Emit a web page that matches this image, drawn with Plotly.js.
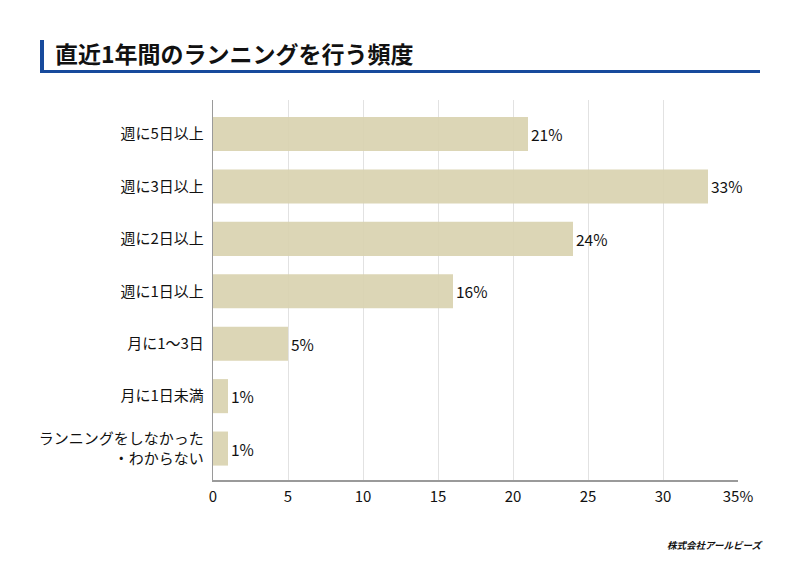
<!DOCTYPE html>
<html><head><meta charset="utf-8">
<script src="https://cdn.plot.ly/plotly-3.0.1.min.js"></script>
<style>html,body{margin:0;padding:0;background:#fff}#c{width:800px;height:566px}</style>
</head><body><div id="c"></div>
<script>
const categories = ["週に5日以上","週に3日以上","週に2日以上","週に1日以上","月に1～3日","月に1日未満","ランニングをしなかった<br>・わからない"];
const values = [21, 33, 24, 16, 5, 1, 1];
const tickVals = [0,5,10,15,20,25,30,35];
const tickText = ["0","5","10","15","20","25","30","35%"];
const titleText = "直近1年間のランニングを行う頻度";
const sourceText = "株式会社アールビーズ";

const font = "'Noto Sans CJK JP', 'Noto Sans', sans-serif";
const trace = {
  type: "bar", orientation: "h",
  y: categories, x: values,
  width: 0.65,
  marker: {color: "#d9d3b0", opacity: 0.92, line: {width: 0}},
  text: values.map(v => v + "%"),
  textposition: "outside",
  textfont: {family: font, size: 15.5, color: "#111"},
  cliponaxis: false,
  hoverinfo: "skip"
};
const layout = {
  width: 800, height: 566,
  margin: {l: 213, r: 62, t: 100, b: 86},
  paper_bgcolor: "#fff", plot_bgcolor: "#fff",
  showlegend: false,
  font: {family: font, color: "#111"},
  xaxis: {
    range: [0, 35], tickvals: tickVals, ticktext: tickText,
    showgrid: true, gridcolor: "#e2e2e2", gridwidth: 1,
    zeroline: false, showline: true, linecolor: "#9a9a9a", linewidth: 1.5,
    ticks: "", ticklabelstandoff: 2, tickfont: {family: font, size: 15, color: "#111"}, fixedrange: true
  },
  yaxis: {
    type: "category", range: [6.6, -0.65],
    showgrid: false, zeroline: false, showline: true, linecolor: "#9a9a9a", linewidth: 1.2,
    ticks: "", ticklabelstandoff: 5, tickfont: {family: font, size: 15, color: "#111"}, fixedrange: true
  },
  shapes: [
    {type: "rect", xref: "paper", yref: "paper", fillcolor: "#174a9c", line: {width: 0}},
    {type: "rect", xref: "paper", yref: "paper", fillcolor: "#174a9c", line: {width: 0}}
  ],
  annotations: [
    {text: titleText, xref: "paper", yref: "paper", xanchor: "left", yanchor: "middle", showarrow: false,
     font: {family: font, size: 23, color: "#111", weight: 700}},
    {text: "<i><b>" + sourceText + "</b></i>", xref: "paper", yref: "paper", xanchor: "right", yanchor: "middle", showarrow: false,
     font: {family: font, size: 9.5, color: "#111"}}
  ]
};
const px = v => (v - 213) / 525, py = v => (480 - v) / 380;
Object.assign(layout.shapes[0], {x0: px(40), x1: px(44), y0: py(72), y1: py(40)});
Object.assign(layout.shapes[1], {x0: px(40), x1: px(760), y0: py(73), y1: py(70)});
Object.assign(layout.annotations[0], {x: px(53), y: py(53)});
Object.assign(layout.annotations[1], {x: px(764), y: py(545)});
Plotly.newPlot("c", [trace], layout, {displayModeBar: false, staticPlot: true});
</script></body></html>
